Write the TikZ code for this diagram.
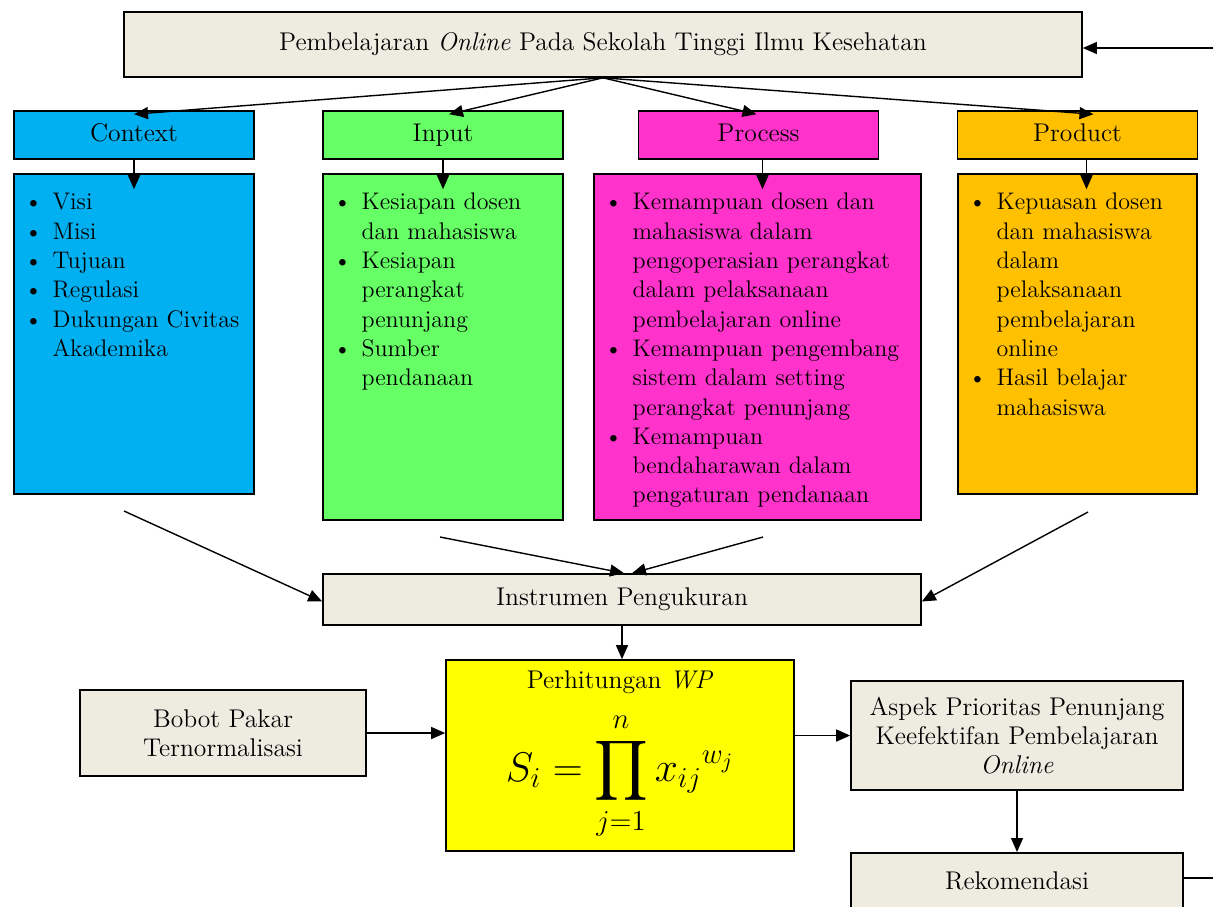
\documentclass[tikz,border=0pt]{standalone}
\usepackage{amsmath,amssymb}
\usepackage{xcolor}
\usepackage{tikz}
\usetikzlibrary{arrows.meta,positioning}
\definecolor{ctxblue}{HTML}{00B0F0}
\definecolor{inpgreen}{HTML}{66FF66}
\definecolor{prcpink}{HTML}{FF33CC}
\definecolor{prdgold}{HTML}{FFC000}
\definecolor{wpyellow}{HTML}{FFFF00}
\definecolor{paper}{HTML}{EEECE1}
\newcommand\bodyfont{\fontsize{12.8}{14.65}\selectfont}
\newcommand\listfont{\fontsize{12}{14.65}\selectfont}
\newenvironment{pts}{\begin{list}{\textbullet}{%
  \setlength\leftmargin{19.5pt}\setlength\labelwidth{10pt}%
  \setlength\labelsep{5pt}\setlength\itemsep{0pt}\setlength\parsep{0pt}%
  \setlength\topsep{0pt}\setlength\partopsep{0pt}}}{\end{list}}
\tikzset{
  box/.style={draw=black, line width=0.8pt, inner sep=0pt, align=center},
  paperbox/.style={box, fill=paper},
  hd/.style={box, minimum width=120pt, minimum height=24pt, text height=9pt, text depth=3pt},
  bd/.style={box},
  lst/.style={anchor=north west, inner sep=0pt, align=left, font=\listfont},
  arr/.style={-{Triangle[length=7pt,width=6pt]}, line width=0.7pt},
}

\begin{document}
\begin{tikzpicture}[x=0.5pt,y=-0.5pt,font=\bodyfont]
  \clip (0,0) rectangle (1213,906);
  \node[paperbox, minimum width=479pt, minimum height=32.5pt] (top) at (603,44.5)
    {Pembelajaran \textit{Online} Pada Sekolah Tinggi Ilmu Kesehatan};

  % CIPP headers
  \foreach \N/\X/\C/\T in {ctx/134/ctxblue/Context, inp/443/inpgreen/Input,
                           prc/758.5/prcpink/Process, prd/1077.5/prdgold/Product}
    \node[hd, fill=\C] (\N hd) at (\X,135) {\T};

  % bodies
  \node[bd, fill=ctxblue, minimum width=120pt, minimum height=160pt] (ctxbd) at (134,334) {};
  \node[bd, fill=inpgreen, minimum width=120pt, minimum height=173pt] (inpbd) at (443,347) {};
  \node[bd, fill=prcpink, minimum width=163.5pt, minimum height=173pt] (prcbd) at (757.5,347) {};
  \node[bd, fill=prdgold, minimum width=119.5pt, minimum height=160pt] (prdbd) at (1077.5,334) {};

  \node[lst, text width=140pt] (ctxlst) at ([yshift=-3.5pt]ctxbd.north west) {\begin{pts}
    \item Visi
    \item Misi
    \item Tujuan
    \item Regulasi
    \item Dukungan Civitas\\Akademika
  \end{pts}};
  \node[lst, text width=140pt] (inplst) at ([yshift=-3.5pt]inpbd.north west) {\begin{pts}
    \item Kesiapan dosen\\dan mahasiswa
    \item Kesiapan\\perangkat\\penunjang
    \item Sumber\\pendanaan
  \end{pts}};
  \node[lst, text width=190pt] (prclst) at ([yshift=-3.5pt]prcbd.north west) {\begin{pts}
    \item Kemampuan dosen dan\\mahasiswa dalam\\pengoperasian perangkat\\dalam pelaksanaan\\pembelajaran online
    \item Kemampuan pengembang\\sistem dalam setting\\perangkat penunjang
    \item Kemampuan\\bendaharawan dalam\\pengaturan pendanaan
  \end{pts}};
  \node[lst, text width=140pt] (prdlst) at ([yshift=-3.5pt]prdbd.north west) {\begin{pts}
    \item Kepuasan dosen\\dan mahasiswa\\dalam\\pelaksanaan\\pembelajaran\\online
    \item Hasil belajar\\mahasiswa
  \end{pts}};

  % lower chain
  \node[paperbox, minimum width=299pt, minimum height=25.5pt] (instr) at (622,599.5) {Instrumen Pengukuran};
  \node[box, fill=wpyellow, minimum width=174pt, minimum height=95.5pt] (wp) at (620,755.5) {};
  \node[inner sep=0pt] (wptitle) at (620,682) {Perhitungan \textit{WP}};
  \node[inner sep=0pt] (wpform) at (620,776) {\fontsize{21}{25}\selectfont$\displaystyle S_i=\prod_{j=1}^{n}{x_{ij}}^{w_j}$};
  \node[paperbox, minimum width=143pt, minimum height=43pt] (bobot) at (223,733) {Bobot Pakar\\Ternormalisasi};
  \node[paperbox, minimum width=166pt, minimum height=54.5pt] (aspek) at (1017,735.5)
    {Aspek Prioritas Penunjang\\Keefektifan Pembelajaran\\\textit{Online}};
  \node[paperbox, minimum width=166pt, minimum height=28pt, anchor=north] (rekom) at (1017,852) {Rekomendasi};

  % connectors
  \draw[arr] (top.south) -- ([yshift=-2pt]ctxhd.north);
  \draw[arr] (top.south) -- ([xshift=3pt,yshift=-2pt]inphd.north);
  \draw[arr] (top.south) -- ([xshift=-1pt,yshift=-2pt]prchd.north);
  \draw[arr] (top.south) -- ([xshift=8pt,yshift=-2pt]prdhd.north);
  \foreach \N in {ctx,inp}
    \draw[arr] (\N hd.south) -- ([yshift=-8pt]\N bd.north);
  \draw[arr] ([xshift=2pt]prchd.south) -- ([xshift=2pt,yshift=-8pt]prchd.south |- prcbd.north);
  \draw[arr] ([xshift=4.5pt]prdhd.south) -- ([xshift=4.5pt,yshift=-8pt]prdbd.north);

  \coordinate (ctxout) at (124,511);
  \coordinate (inpout) at (440,537);
  \coordinate (prcout) at (763,537);
  \coordinate (prdout) at (1088,512);
  \draw[arr] (ctxout) -- ([yshift=-1pt]instr.west);
  \draw[arr] (inpout) -- ([xshift=1pt]instr.north);
  \draw[arr] (prcout) -- ([xshift=5pt]instr.north);
  \draw[arr] (prdout) -- ([yshift=-1pt]instr.east);

  \draw[arr] (instr.south) -- (instr.south |- wp.north);
  \draw[arr] (bobot.east) -- (bobot.east -| wp.west);
  \draw[arr] (aspek.west -| wp.east) -- (aspek.west);
  \draw[arr] (aspek.south) -- (rekom.north);

  % feedback loop (runs outside the frame)
  \coordinate (fbbot) at (1240,878);
  \coordinate (fbtop) at (1240,48);
  \draw[arr] (rekom.east |- fbbot) -- (fbbot) -- (fbtop) -- (fbtop -| top.east);
\end{tikzpicture}
\end{document}
